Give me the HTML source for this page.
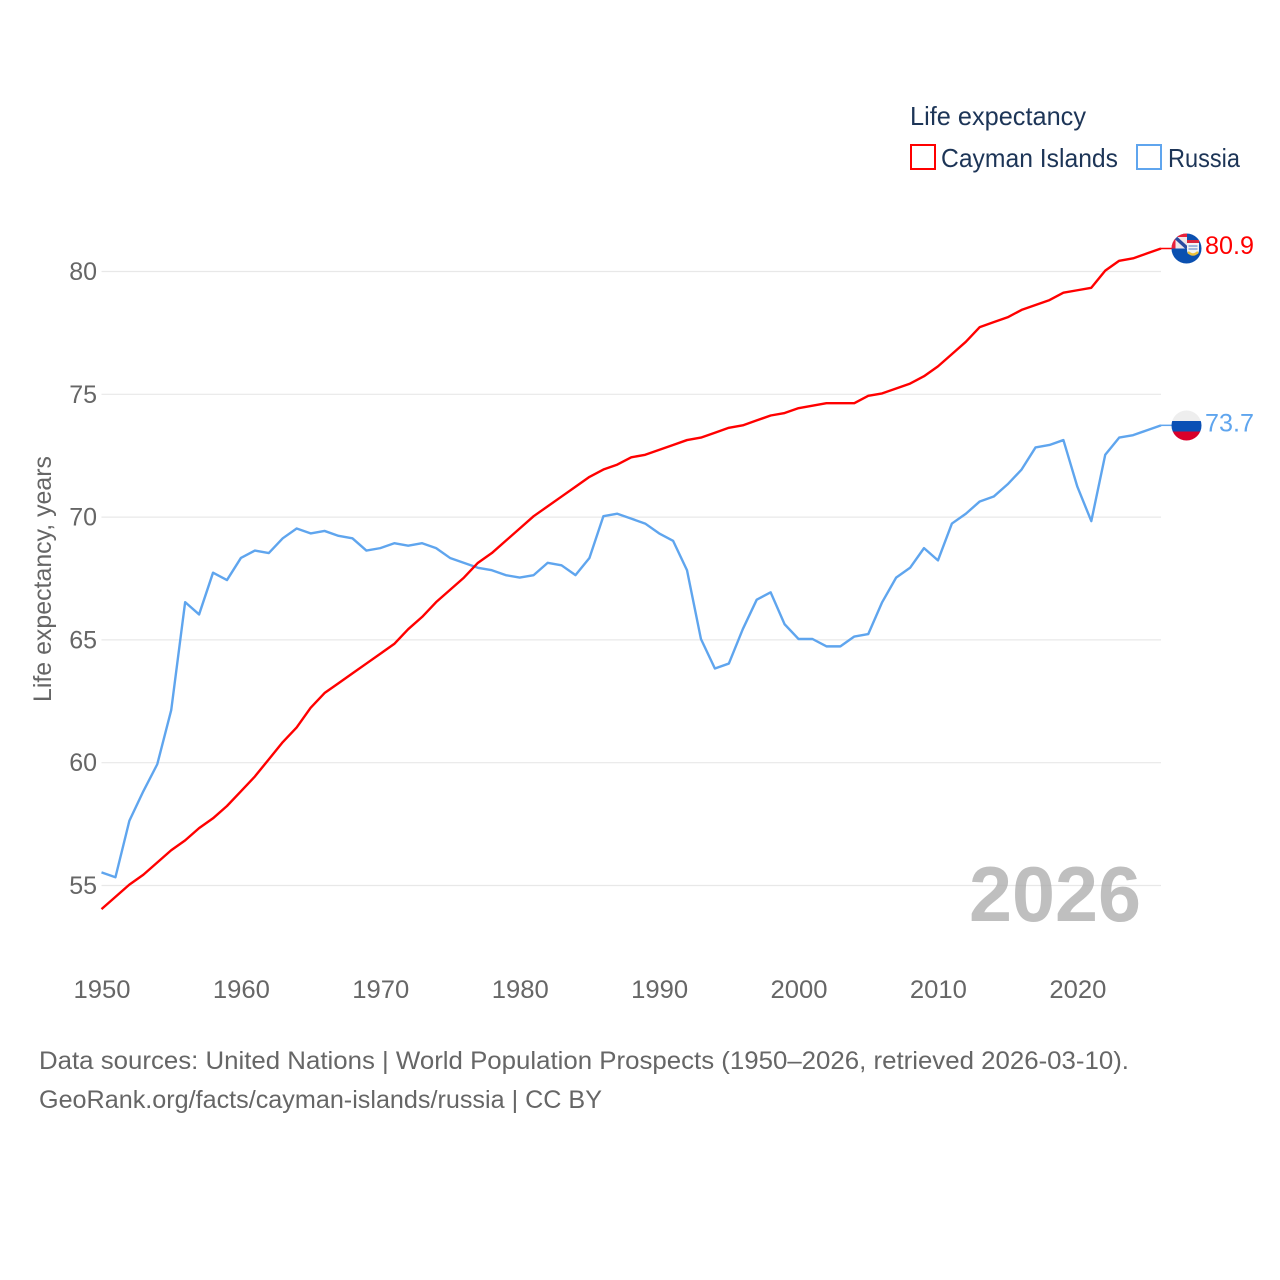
<!DOCTYPE html>
<html lang="en">
<head>
<meta charset="utf-8">
<title>Life expectancy: Cayman Islands and Russia</title>
<style>
html,body{margin:0;padding:0;background:#fff;}
svg{display:block;font-family:"Liberation Sans",sans-serif;}
</style>
</head>
<body>
<svg id="chart" width="1280" height="1280" viewBox="0 0 1280 1280" xmlns="http://www.w3.org/2000/svg">
  <rect width="1280" height="1280" fill="#ffffff"/>
  <defs>
    <clipPath id="flag-clip-a"><circle cx="1186.5" cy="248.5" r="15"/></clipPath>
    <clipPath id="flag-clip-b"><circle cx="1186.5" cy="425.5" r="15"/></clipPath>
  </defs>
  <g id="grid"></g>
  <g id="y-ticks"></g>
  <g id="x-ticks"></g>
  <text x="1055" y="921" text-anchor="middle" font-size="78" font-weight="700" fill="#a9a9a9" fill-opacity="0.75" textLength="172" lengthAdjust="spacingAndGlyphs">2026</text>
  <text transform="translate(51 579) rotate(-90)" text-anchor="middle" font-size="25" fill="#666666" textLength="246" lengthAdjust="spacingAndGlyphs">Life expectancy, years</text>
  <g id="series" transform="translate(0 -0.9)"></g>

  <g>
    <text x="910" y="125" font-size="26" fill="#1d3557" textLength="176" lengthAdjust="spacingAndGlyphs">Life expectancy</text>
    <rect x="911" y="145" width="24" height="24" fill="#ffffff" stroke="#ff0000" stroke-width="2"/>
    <text x="941" y="167" font-size="26" fill="#1d3557" textLength="177" lengthAdjust="spacingAndGlyphs">Cayman Islands</text>
    <rect x="1137" y="145" width="24" height="24" fill="#ffffff" stroke="#5fa5ee" stroke-width="2"/>
    <text x="1168" y="167" font-size="26" fill="#1d3557" textLength="72" lengthAdjust="spacingAndGlyphs">Russia</text>
  </g>

  <g clip-path="url(#flag-clip-a)">
    <rect x="1171" y="233" width="31" height="31" fill="#0b50b0"/>
    <rect x="1171" y="233" width="16" height="15.5" fill="#f0e6e8"/>
    <path d="M1171 233H1187V237H1175.5V248.5H1171Z" fill="#e8203a"/>
    <path d="M1176 238L1187 248" stroke="#2a4aa0" stroke-width="3.4"/>
    <path d="M1187 240H1199V250Q1199 255 1193 255Q1187 255 1187 250Z" fill="#f3f3f3"/>
    <rect x="1187" y="240" width="12" height="3" fill="#d8263c"/>
    <path d="M1188.5 246H1197.5M1188.5 249H1197.5" stroke="#6f93d0" stroke-width="1.3"/>
    <path d="M1188 252Q1193 257 1198 252" stroke="#eec13a" stroke-width="2.4" fill="none"/>
  </g>
  <g clip-path="url(#flag-clip-b)">
    <rect x="1171" y="410" width="31" height="11" fill="#eeeeee"/>
    <rect x="1171" y="421" width="31" height="10.5" fill="#0a50b5"/>
    <rect x="1171" y="431.5" width="31" height="10" fill="#d9002a"/>
  </g>
  <text x="1205" y="254" font-size="25" fill="#ff0000" textLength="49" lengthAdjust="spacingAndGlyphs">80.9</text>
  <text x="1205" y="431.5" font-size="25" fill="#5fa5ee" textLength="49" lengthAdjust="spacingAndGlyphs">73.7</text>

  <g>
    <text x="39" y="1069" font-size="25" fill="#666666" textLength="1090" lengthAdjust="spacingAndGlyphs">Data sources: United Nations | World Population Prospects (1950–2026, retrieved 2026-03-10).</text>
    <text x="39" y="1108" font-size="25" fill="#666666" textLength="563" lengthAdjust="spacingAndGlyphs">GeoRank.org/facts/cayman-islands/russia | CC BY</text>
  </g>
</svg>
<script>
const firstYear = 1950;
const yTickValues = [55, 60, 65, 70, 75, 80];
const xTickValues = [1950, 1960, 1970, 1980, 1990, 2000, 2010, 2020];
const caymanValues = [54.0,54.5,55.0,55.4,55.9,56.4,56.8,57.3,57.7,58.2,58.8,59.4,60.1,60.8,61.4,62.2,62.8,63.2,63.6,64.0,64.4,64.8,65.4,65.9,66.5,67.0,67.5,68.1,68.5,69.0,69.5,70.0,70.4,70.8,71.2,71.6,71.9,72.1,72.4,72.5,72.7,72.9,73.1,73.2,73.4,73.6,73.7,73.9,74.1,74.2,74.4,74.5,74.6,74.6,74.6,74.9,75.0,75.2,75.4,75.7,76.1,76.6,77.1,77.7,77.9,78.1,78.4,78.6,78.8,79.1,79.2,79.3,80.0,80.4,80.5,80.7,80.9];
const russiaValues = [55.5,55.3,57.6,58.8,59.9,62.1,66.5,66.0,67.7,67.4,68.3,68.6,68.5,69.1,69.5,69.3,69.4,69.2,69.1,68.6,68.7,68.9,68.8,68.9,68.7,68.3,68.1,67.9,67.8,67.6,67.5,67.6,68.1,68.0,67.6,68.3,70.0,70.1,69.9,69.7,69.3,69.0,67.8,65.0,63.8,64.0,65.4,66.6,66.9,65.6,65.0,65.0,64.7,64.7,65.1,65.2,66.5,67.5,67.9,68.7,68.2,69.7,70.1,70.6,70.8,71.3,71.9,72.8,72.9,73.1,71.2,69.8,72.5,73.2,73.3,73.5,73.7];

const NS = 'http://www.w3.org/2000/svg';
const xLeft = 101.5, xRight = 1161, yearSpan = 76;
function xScale(year) { return xLeft + (year - firstYear) * (xRight - xLeft) / yearSpan; }
function yScale(value) { return 885.5 - (value - 55) * (885.5 - 271.5) / 25; }

const gridGroup = document.getElementById('grid');
const yTickGroup = document.getElementById('y-ticks');
const xTickGroup = document.getElementById('x-ticks');
const seriesGroup = document.getElementById('series');

yTickValues.forEach(function (value) {
  const line = document.createElementNS(NS, 'line');
  
  
  line.setAttribute('x1', xLeft);
  line.setAttribute('x2', xRight);
  line.setAttribute('y1', yScale(value));
  line.setAttribute('y2', yScale(value));
  line.setAttribute('stroke', '#e8e8e8');
  line.setAttribute('stroke-width', '1.2');
  gridGroup.appendChild(line);

  const label = document.createElementNS(NS, 'text');
  
  
  label.setAttribute('x', 97);
  label.setAttribute('y', yScale(value) + 8.5);
  label.setAttribute('text-anchor', 'end');
  label.setAttribute('font-size', '25');
  label.setAttribute('fill', '#666666');
  label.textContent = value;
  yTickGroup.appendChild(label);
});

xTickValues.forEach(function (year) {
  const label = document.createElementNS(NS, 'text');
  
  
  label.setAttribute('x', xScale(year) + 0.5);
  label.setAttribute('y', 998);
  label.setAttribute('text-anchor', 'middle');
  label.setAttribute('font-size', '25');
  label.setAttribute('fill', '#666666');
  label.setAttribute('textLength', '57');
  label.setAttribute('lengthAdjust', 'spacingAndGlyphs');
  label.textContent = year;
  xTickGroup.appendChild(label);
});

function linePoints(values) {
  return values.map(function (value, i) {
    return xScale(firstYear + i).toFixed(2) + ',' + yScale(value).toFixed(2);
  }).join(' ');
}

const caymanLine = document.createElementNS(NS, 'polyline');


caymanLine.setAttribute('points', linePoints(caymanValues));
caymanLine.setAttribute('fill', 'none');
caymanLine.setAttribute('stroke', '#ff0000');
caymanLine.setAttribute('stroke-width', '2.4');
caymanLine.setAttribute('stroke-linejoin', 'round');

const russiaLine = document.createElementNS(NS, 'polyline');


russiaLine.setAttribute('points', linePoints(russiaValues));
russiaLine.setAttribute('fill', 'none');
russiaLine.setAttribute('stroke', '#5fa5ee');
russiaLine.setAttribute('stroke-width', '2.4');
russiaLine.setAttribute('stroke-linejoin', 'round');

seriesGroup.appendChild(russiaLine);
seriesGroup.appendChild(caymanLine);

const caymanConnector = document.createElementNS(NS, 'line');


caymanConnector.setAttribute('x1', xRight);
caymanConnector.setAttribute('x2', 1174);
caymanConnector.setAttribute('y1', yScale(caymanValues[caymanValues.length - 1]));
caymanConnector.setAttribute('y2', yScale(caymanValues[caymanValues.length - 1]));
caymanConnector.setAttribute('stroke', '#ff0000');
caymanConnector.setAttribute('stroke-width', '1.5');
seriesGroup.appendChild(caymanConnector);

const russiaConnector = document.createElementNS(NS, 'line');


russiaConnector.setAttribute('x1', xRight);
russiaConnector.setAttribute('x2', 1174);
russiaConnector.setAttribute('y1', yScale(russiaValues[russiaValues.length - 1]));
russiaConnector.setAttribute('y2', yScale(russiaValues[russiaValues.length - 1]));
russiaConnector.setAttribute('stroke', '#5fa5ee');
russiaConnector.setAttribute('stroke-width', '1.5');
seriesGroup.appendChild(russiaConnector);
</script>
</body>
</html>
